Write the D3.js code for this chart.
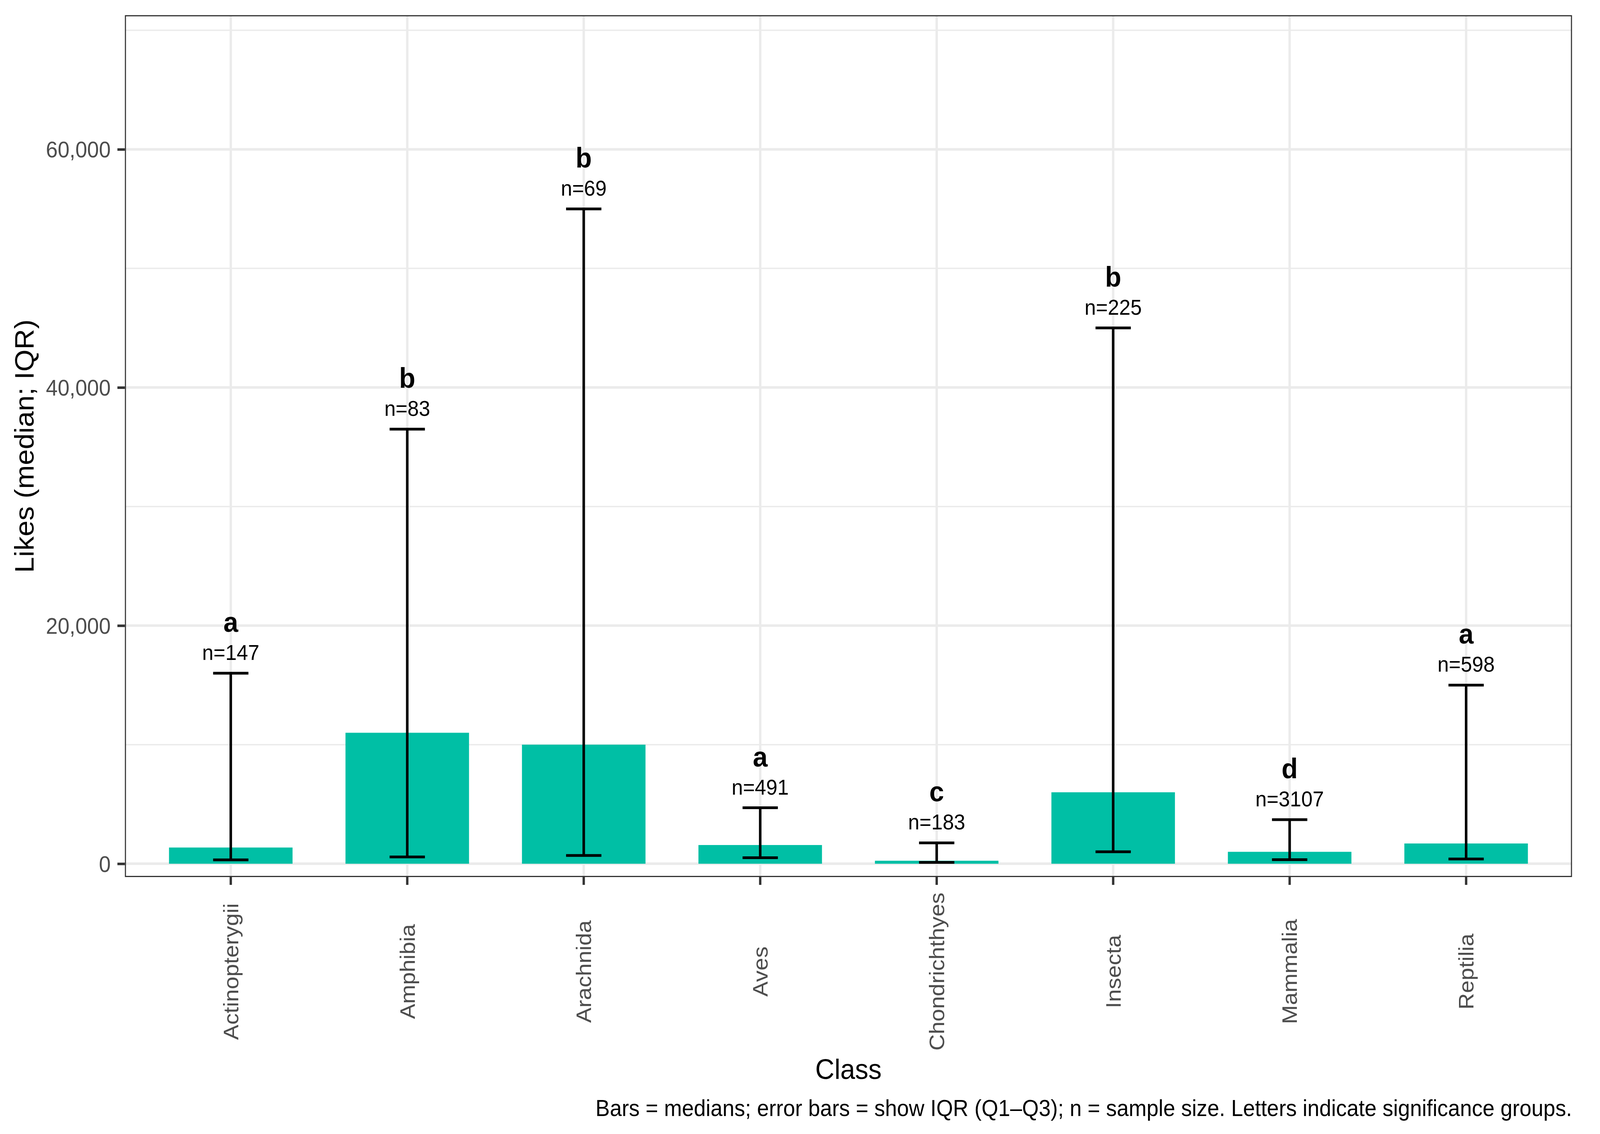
<!DOCTYPE html>
<html>
<head>
<meta charset="utf-8">
<script src="https://cdn.jsdelivr.net/npm/d3@7"></script>
<style>
  html, body { margin: 0; padding: 0; background: #ffffff; overflow: hidden; width: 100%; height: 100%; }
  svg { display: block; width: 100vw; height: 100vh; font-family: "Liberation Sans", Arial, Helvetica, sans-serif; }
</style>
</head>
<body>
<svg id="chart" viewBox="0 0 4402 2904" preserveAspectRatio="none"></svg>
<script>
// ---- data ----
const categories = ["Actinopterygii", "Amphibia", "Arachnida", "Aves", "Chondrichthyes", "Insecta", "Mammalia", "Reptilia"];
const medians = [1360, 11000, 10000, 1570, 250, 6000, 1000, 1700];
const q1Values = [320, 570, 690, 500, 110, 1000, 340, 400];
const q3Values = [16000, 36500, 55000, 4700, 1750, 45000, 3700, 15000];
const sampleSizes = [147, 83, 69, 491, 183, 225, 3107, 598];
const groupLetters = ["a", "b", "b", "a", "c", "b", "d", "a"];
const yMajorTicks = [0, 20000, 40000, 60000];
const yMinorTicks = [10000, 30000, 50000, 70000];
const xTitle = "Class";
const yTitle = "Likes (median; IQR)";
const caption = "Bars = medians; error bars = show IQR (Q1\u2013Q3); n = sample size. Letters indicate significance groups.";

// ---- layout ----
const W = 4402, H = 2904;
const panel = { left: 343.6, right: 4325, top: 38.8, bottom: 2246 };
const svg = d3.select("#chart");

const x = d3.scaleBand()
  .domain(categories)
  .range([panel.left, panel.right])
  .paddingInner(0.3)
  .paddingOuter(0.25);
const step = x.step();
const cx = c => x(c) + x.bandwidth() / 2;

const y = d3.scaleLinear()
  .domain([-1120, 71270])
  .range([panel.bottom, panel.top]);

const rows = categories.map((c, i) => ({
  cat: c, med: medians[i], q1: q1Values[i], q3: q3Values[i], n: sampleSizes[i], letter: groupLetters[i]
}));

svg.append("rect").attr("x", 0).attr("y", 0).attr("width", W).attr("height", H).attr("fill", "#ffffff");

// clip
svg.append("defs").append("clipPath").attr("id", "panelClip")
  .append("rect")
  .attr("x", panel.left).attr("y", panel.top)
  .attr("width", panel.right - panel.left).attr("height", panel.bottom - panel.top);

const pg = svg.append("g").attr("clip-path", "url(#panelClip)");

// minor gridlines
pg.selectAll("line.ymin").data(yMinorTicks).join("line")
  .attr("x1", panel.left).attr("x2", panel.right)
  .attr("y1", d => y(d)).attr("y2", d => y(d))
  .attr("stroke", "#ebebeb").attr("stroke-width", 3.5);
// major gridlines
pg.selectAll("line.ymaj").data(yMajorTicks).join("line")
  .attr("x1", panel.left).attr("x2", panel.right)
  .attr("y1", d => y(d)).attr("y2", d => y(d))
  .attr("stroke", "#ebebeb").attr("stroke-width", 6.5);
pg.selectAll("line.xmaj").data(categories).join("line")
  .attr("x1", d => cx(d)).attr("x2", d => cx(d))
  .attr("y1", panel.top).attr("y2", panel.bottom)
  .attr("stroke", "#ebebeb").attr("stroke-width", 6.5);

// bars
pg.selectAll("rect.bar").data(rows).join("rect")
  .attr("class", "bar")
  .attr("x", d => x(d.cat))
  .attr("width", x.bandwidth())
  .attr("y", d => y(d.med))
  .attr("height", d => y(0) - y(d.med))
  .attr("fill", "#00bfa5");

// error bars
const capHalf = step * 0.1;
const eb = pg.selectAll("g.eb").data(rows).join("g").attr("class", "eb");
eb.append("path")
  .attr("d", d => {
    const c = cx(d.cat);
    return `M${c - capHalf},${y(d.q3)}H${c + capHalf}M${c},${y(d.q3)}V${y(d.q1)}M${c - capHalf},${y(d.q1)}H${c + capHalf}`;
  })
  .attr("fill", "none").attr("stroke", "#000").attr("stroke-width", 7);

// n labels
pg.selectAll("text.nlab").data(rows).join("text")
  .attr("class", "nlab")
  .attr("x", d => cx(d.cat))
  .attr("y", d => y(d.q3) - 34)
  .attr("text-anchor", "middle")
  .attr("font-size", 56)
  .attr("fill", "#000")
  .text(d => "n=" + d.n);

// letters
pg.selectAll("text.let").data(rows).join("text")
  .attr("class", "let")
  .attr("x", d => cx(d.cat))
  .attr("y", d => y(d.q3) - 106)
  .attr("text-anchor", "middle")
  .attr("font-size", 73)
  .attr("font-weight", "bold")
  .attr("fill", "#000")
  .text(d => d.letter);

// panel border
svg.append("rect")
  .attr("x", panel.left + 1.5).attr("y", panel.top + 1.5)
  .attr("width", panel.right - panel.left - 3).attr("height", panel.bottom - panel.top - 3)
  .attr("fill", "none").attr("stroke", "#333333").attr("stroke-width", 3);

// y axis
const yAxis = svg.append("g")
  .attr("transform", `translate(${panel.left},0)`)
  .call(d3.axisLeft(y).tickValues(yMajorTicks).tickFormat(d3.format(",")).tickSize(20.6).tickPadding(18.4));
yAxis.select(".domain").remove();
yAxis.selectAll(".tick line").attr("stroke", "#333333").attr("stroke-width", 6.5);
yAxis.selectAll(".tick text")
  .attr("font-size", 58.3).attr("fill", "#4d4d4d")
  .attr("font-family", "Liberation Sans, Arial, sans-serif")
  .attr("dy", "0.35em");

// x axis
const xAxis = svg.append("g")
  .attr("transform", `translate(0,${panel.bottom})`)
  .call(d3.axisBottom(x).tickSize(20).tickPadding(0));
xAxis.select(".domain").remove();
xAxis.selectAll(".tick line").attr("stroke", "#333333").attr("stroke-width", 6.5);
xAxis.selectAll(".tick text")
  .attr("font-size", 58.3).attr("fill", "#4d4d4d")
  .attr("font-family", "Liberation Sans, Arial, sans-serif")
  .attr("x", 0).attr("y", 0)
  .attr("dy", "0.35em")
  .attr("text-anchor", "middle")
  .attr("transform", `translate(0,${2488 - panel.bottom}) rotate(-90)`);

// axis titles
svg.append("text")
  .attr("x", (panel.left + panel.right) / 2)
  .attr("y", 2763)
  .attr("text-anchor", "middle")
  .attr("font-size", 73).attr("fill", "#000")
  .text(xTitle);

svg.append("text")
  .attr("transform", `translate(92,${(panel.top + panel.bottom) / 2}) rotate(-90)`)
  .attr("text-anchor", "middle")
  .attr("font-size", 73).attr("fill", "#000")
  .text(yTitle);

// caption
svg.append("text")
  .attr("x", panel.right)
  .attr("y", 2857.6)
  .attr("text-anchor", "end")
  .attr("font-size", 59).attr("fill", "#000")
  .text(caption);
</script>
</body>
</html>
